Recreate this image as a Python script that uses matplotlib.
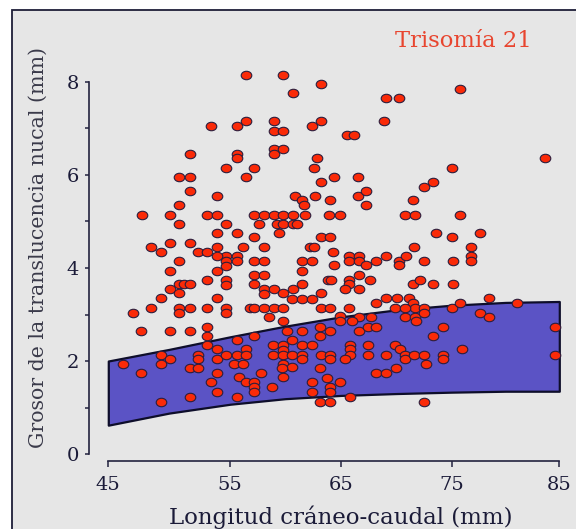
import numpy as np
import matplotlib
matplotlib.use("Agg")
import matplotlib.pyplot as plt
from matplotlib.path import Path
from matplotlib.patches import Rectangle
from matplotlib.transforms import Affine2D

plt.rcParams['font.family'] = 'DejaVu Serif'

# fetos con trisomia 21: longitud craneo-caudal (mm) y translucencia nucal (mm)
crl_mm = [
    56.4, 59.8, 63.2, 60.7, 53.4, 55.6, 56.4, 59.0, 59.0, 59.8,
    62.4, 63.2, 51.7, 55.6, 55.6, 59.0, 59.0, 59.8, 62.8, 54.7,
    57.2, 62.6, 50.8, 51.7, 56.4, 63.2, 51.7, 53.9, 50.8, 60.9,
    61.5, 61.7, 62.7, 64.0, 47.8, 50.1, 53.1, 53.9, 57.2, 58.1,
    59.0, 59.8, 60.7, 61.8, 63.9, 50.8, 54.7, 57.6, 59.2, 59.8,
    60.7, 61.0, 59.4, 53.9, 55.6, 57.2, 63.2, 64.0, 69.1, 70.2,
    75.8, 68.9, 65.5, 66.2, 64.4, 66.5, 75.0, 83.7, 73.3, 72.5,
    66.5, 67.3, 67.3, 71.5, 64.9, 70.8, 71.7, 75.8, 73.6, 75.0,
    77.6, 48.5, 50.1, 51.7, 49.3, 52.4, 53.1, 53.9, 54.7, 55.6,
    56.2, 58.1, 53.9, 54.7, 55.6, 54.7, 57.2, 58.1, 61.5, 62.4,
    62.2, 62.6, 64.3, 50.8, 50.1, 53.9, 57.2, 58.1, 61.5, 63.8,
    64.1, 50.8, 51.2, 51.7, 53.1, 54.7, 54.7, 57.2, 61.5, 63.2,
    50.1, 50.8, 49.3, 53.9, 58.1, 59.0, 59.8, 60.7, 58.1, 60.6,
    61.5, 62.4, 47.0, 48.5, 50.8, 50.8, 51.7, 53.1, 54.7, 54.7,
    56.8, 57.2, 58.1, 59.0, 59.8, 58.5, 63.2, 64.0, 59.8, 47.7,
    50.1, 51.7, 53.1, 53.1, 55.6, 57.2, 60.1, 61.5, 63.1, 63.1,
    64.0, 53.1, 53.9, 56.4, 58.9, 59.8, 60.6, 61.5, 62.4, 59.8,
    49.3, 50.1, 52.4, 52.4, 53.9, 54.7, 55.6, 56.4, 58.9, 59.8,
    60.6, 61.5, 61.5, 63.2, 64.0, 64.0, 46.2, 49.3, 55.4, 56.2,
    59.8, 60.6, 51.7, 52.4, 59.7, 63.1, 47.7, 53.9, 57.8, 59.8,
    55.8, 63.7, 53.4, 56.4, 57.2, 57.2, 57.2, 58.8, 62.4, 64.0,
    53.9, 62.4, 64.0, 51.7, 55.6, 49.3, 63.1, 64.0, 64.9, 65.8,
    71.6, 76.8, 65.7, 66.6, 65.7, 66.6, 67.3, 68.2, 69.1, 70.2,
    70.2, 70.9, 72.5, 75.1, 76.8, 76.8, 64.4, 65.7, 65.7, 66.6,
    66.6, 67.6, 65.4, 71.5, 72.1, 73.3, 75.1, 65.7, 68.2, 69.1,
    70.1, 71.1, 71.5, 71.7, 69.9, 70.8, 72.5, 75.0, 75.8, 78.5,
    81.1, 64.9, 64.9, 66.6, 67.7, 66.0, 70.8, 71.7, 71.8, 72.5,
    77.6, 78.5, 66.6, 67.4, 68.2, 74.2, 73.3, 84.6, 65.8, 65.8,
    65.8, 67.4, 67.4, 69.9, 70.3, 70.8, 70.8, 71.6, 72.5, 74.2,
    74.2, 76.0, 69.1, 65.4, 84.6, 72.7, 70.0, 68.2, 69.1, 72.5,
]
nt_mm = [
    8.15, 8.15, 7.96, 7.76, 7.06, 7.06, 7.16, 7.16, 6.95, 6.95,
    7.05, 7.16, 6.45, 6.45, 6.36, 6.55, 6.45, 6.55, 6.36, 6.15,
    6.15, 6.15, 5.96, 5.96, 5.96, 5.85, 5.65, 5.55, 5.35, 5.55,
    5.46, 5.35, 5.55, 5.46, 5.15, 5.15, 5.15, 5.15, 5.15, 5.15,
    5.15, 5.15, 5.15, 5.15, 5.15, 4.95, 4.95, 4.95, 4.95, 4.95,
    4.95, 4.95, 4.76, 4.76, 4.76, 4.67, 4.67, 4.67, 7.66, 7.66,
    7.85, 7.16, 6.85, 6.85, 5.96, 5.96, 6.15, 6.36, 5.85, 5.75,
    5.55, 5.65, 5.35, 5.46, 5.15, 5.15, 5.15, 5.15, 4.75, 4.67,
    4.75, 4.46, 4.54, 4.54, 4.35, 4.35, 4.35, 4.46, 4.26, 4.26,
    4.46, 4.46, 4.26, 4.15, 4.15, 4.05, 4.15, 4.15, 4.15, 4.15,
    4.46, 4.46, 4.35, 4.15, 3.94, 3.94, 3.85, 3.85, 3.94, 3.74,
    3.74, 3.65, 3.65, 3.65, 3.74, 3.74, 3.63, 3.65, 3.65, 3.46,
    3.54, 3.46, 3.35, 3.35, 3.54, 3.54, 3.46, 3.54, 3.44, 3.33,
    3.33, 3.33, 3.04, 3.15, 3.15, 3.04, 3.15, 3.15, 3.15, 3.04,
    3.15, 3.15, 3.15, 3.15, 3.15, 2.94, 3.15, 3.15, 2.85, 2.65,
    2.65, 2.65, 2.74, 2.54, 2.45, 2.54, 2.65, 2.65, 2.74, 2.54,
    2.65, 2.34, 2.26, 2.26, 2.34, 2.34, 2.45, 2.34, 2.34, 2.24,
    2.13, 2.04, 2.13, 2.04, 2.04, 2.13, 2.13, 2.13, 2.13, 2.13,
    2.13, 2.13, 2.04, 2.13, 2.13, 2.04, 1.94, 1.94, 1.94, 1.94,
    1.94, 1.88, 1.84, 1.84, 1.84, 1.84, 1.74, 1.74, 1.74, 1.66,
    1.66, 1.64, 1.54, 1.54, 1.54, 1.45, 1.34, 1.45, 1.54, 1.45,
    1.33, 1.33, 1.33, 1.23, 1.23, 1.12, 1.12, 1.12, 1.54, 1.23,
    4.46, 4.46, 4.26, 4.26, 4.16, 4.16, 4.06, 4.16, 4.26, 4.16,
    4.06, 4.26, 4.16, 4.16, 4.26, 4.16, 4.06, 3.74, 3.65, 3.85,
    3.54, 3.74, 3.54, 3.65, 3.74, 3.65, 3.65, 3.15, 3.25, 3.35,
    3.35, 3.35, 3.25, 3.15, 3.15, 3.15, 3.15, 3.15, 3.25, 3.36,
    3.25, 2.97, 2.85, 2.95, 2.95, 2.85, 2.95, 2.95, 2.85, 3.04,
    3.04, 2.94, 2.65, 2.74, 2.74, 2.74, 2.54, 2.74, 2.34, 2.26,
    2.13, 2.34, 2.13, 2.34, 2.26, 2.13, 2.04, 2.13, 2.13, 2.13,
    2.04, 2.26, 2.13, 2.04, 2.13, 1.94, 1.84, 1.74, 1.74, 1.12,
]

# percentiles 5 y 95 de la translucencia nucal en fetos normales
band_crl = [45, 50, 55, 60, 65, 70, 75, 80, 85]
band_p5 = [0.62, 0.88, 1.07, 1.19, 1.26, 1.30, 1.33, 1.35, 1.35]
band_p95 = [2.00, 2.25, 2.52, 2.75, 2.95, 3.10, 3.20, 3.26, 3.28]

x_ticks = [45, 55, 65, 75, 85]
y_ticks = [0, 2, 4, 6, 8]

# the printed CRL ruler isn't evenly spaced, so the x scale follows its ticks
ruler_mm = [35, 45, 55, 65, 75, 85, 95]
ruler_pos = [-12.17, 0.0, 12.17, 23.27, 34.34, 45.10, 55.86]


def fwd(x):
    return np.interp(x, ruler_mm, ruler_pos)


def inv(p):
    return np.interp(p, ruler_pos, ruler_mm)


W, H = 576, 529
ink = '#23233f'

fig = plt.figure(figsize=(W / 100, H / 100), dpi=100)
fig.patch.set_facecolor('white')
# grey panel with a dark border (left and top edges are inside the figure)
fig.patches.append(Rectangle((11.7 / W, -0.1), 1.2, 1 - 10 / H + 0.1,
                             transform=fig.transFigure, facecolor='#e6e6e6',
                             edgecolor='#1e1e38', linewidth=1.3, zorder=-1))

ax = fig.add_axes([89.3 / W, 1 - 460.7 / H, (565 - 89.3) / W, (460.7 - 60) / H])
ax.patch.set_visible(False)
ax.set_xscale('function', functions=(fwd, inv))

ax.fill_between(band_crl, band_p5, band_p95, facecolor='#5b53c5',
                edgecolor='#0e0e2a', linewidth=1.6, zorder=2)

ellipse = Path.unit_circle().transformed(Affine2D().scale(1.25, 1.0))
ax.scatter(crl_mm, nt_mm, s=58, marker=ellipse, facecolor='#fa2a08',
           edgecolor='#2b1d3d', linewidths=0.8, zorder=3, clip_on=False)

ax.set_xlim(43.44, 85.53)
ax.set_ylim(-0.144, 8.473)

for side in ['top', 'right']:
    ax.spines[side].set_visible(False)
for side in ['left', 'bottom']:
    ax.spines[side].set_color(ink)
    ax.spines[side].set_linewidth(1.2)
ax.spines['left'].set_bounds(0, 8)
ax.spines['bottom'].set_bounds(45, 85)

ax.set_xticks(x_ticks)
ax.set_xticklabels([str(v) for v in x_ticks])
ax.set_xticks([], minor=True)
ax.set_yticks(y_ticks)
ax.set_yticklabels([str(v) for v in y_ticks])
ax.set_yticks([1, 3, 5, 7], minor=True)

ax.tick_params(axis='x', length=4.3, width=1.1, color=ink, pad=7,
               labelsize=14, labelcolor='#1b1b38')
ax.tick_params(axis='y', which='both', length=3.2, width=1.1, color=ink,
               pad=4, labelsize=14, labelcolor='#1b1b38')

fig.text(341 / W, 1 - 517 / H, 'Longitud cráneo-caudal (mm)', ha='center',
         va='center', fontsize=16.5, color='#1b1b38')
fig.text(38 / W, 1 - 248 / H, 'Grosor de la translucencia nucal (mm)',
         rotation=90, ha='center', va='center', fontsize=14.8, color='#3a3a4a')
fig.text(463 / W, 1 - 41 / H, 'Trisomía 21', ha='center', va='center',
         fontsize=16.3, color='#e8452f')

fig.savefig('out.png', dpi=100)
